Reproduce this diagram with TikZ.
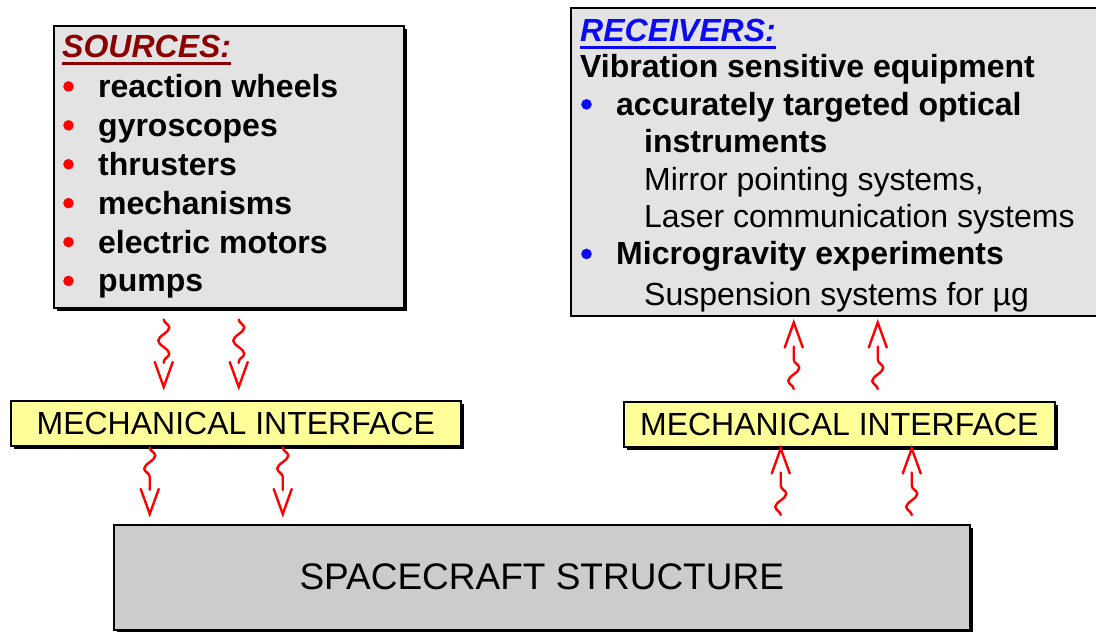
\documentclass[tikz,border=0pt]{standalone}
\usepackage{fontspec}
\setmainfont{Liberation Sans}
\usetikzlibrary{positioning,decorations.pathmorphing,decorations.markings,shadows}

\definecolor{boxgrey}{HTML}{E3E3E3}
\definecolor{basegrey}{HTML}{CCCCCC}
\definecolor{ifyellow}{HTML}{FFFF99}
\definecolor{srcred}{HTML}{8B0000}
\definecolor{rcvblue}{HTML}{0A0AF5}

\newcommand\hdrline[1]{\setbox0=\hbox{#1}\rlap{\rule[-7.5pt]{\wd0}{2.8pt}}\box0}
\newcommand\bul[1]{\makebox[36pt][l]{\hspace{1pt}\tikz[baseline=-11pt]\fill[#1](0pt,0pt)circle(5.3pt);}}

\begin{document}
\begin{tikzpicture}
[x=1pt,y=-1pt,
 shadowed/.style={drop shadow={shadow xshift=3.5pt,shadow yshift=-3.5pt,fill=black,opacity=1}},
 greybox/.style={draw,line width=1.5pt,fill=boxgrey,inner sep=0pt},
 ifbox/.style={draw,line width=1.5pt,fill=ifyellow,shadowed,inner sep=0pt,
   font=\fontsize{32}{38}\selectfont},
 basebox/.style={draw,line width=1.5pt,fill=basegrey,shadowed,inner sep=0pt,
   font=\fontsize{37}{42}\selectfont},
 wave/.style={red,line width=2.4pt,
   postaction={draw,line cap=round,decorate,shorten >=24pt,
     decoration={snake,amplitude=5.5pt,segment length=26pt,post length=25pt}},
   postaction={decorate,decoration={markings,mark=at position 1 with
     {\draw[line cap=round,line join=miter] (-25pt,9pt) -- (0pt,0pt) -- (-25pt,-9pt);}}}}]
\useasboundingbox (0,0) rectangle (1096,632);
\clip (0,0) rectangle (1096,632);
% sources
\node[greybox,shadowed,anchor=north west,minimum width=350pt,minimum height=282pt](src) at (53,25){};
\node[anchor=north west,align=left,inner sep=0pt,font=\fontsize{32}{38.9}\selectfont\bfseries]
 (srclist) at ([xshift=9pt,yshift=-10pt]src.north west)
 {{\color{srcred}\itshape\hdrline{SOURCES:}}\\[1pt]
  \bul{red}reaction wheels\\
  \bul{red}gyroscopes\\
  \bul{red}thrusters\\
  \bul{red}mechanisms\\
  \bul{red}electric motors\\
  \bul{red}pumps};
% receivers
\node[greybox,anchor=north west,minimum width=540pt,minimum height=308pt](rcv) at (570,7){};
\node[anchor=north west,align=left,inner sep=0pt,font=\fontsize{32}{37.4}\selectfont]
 (rcvlist) at ([xshift=10pt,yshift=-12pt]rcv.north west)
 {{\color{rcvblue}\bfseries\itshape\hdrline{RECEIVERS:}}\\[-1pt]
  \textbf{Vibration sensitive equipment}\\
  \bul{rcvblue}\textbf{accurately targeted optical}\\
  \hspace*{64pt}\textbf{instruments}\\
  \hspace*{64pt}Mirror pointing systems,\\
  \hspace*{64pt}Laser communication systems\\
  \bul{rcvblue}\textbf{Microgravity experiments}\\[3pt]
  \hspace*{64pt}Suspension systems for µg};
% interfaces and structure
\node[ifbox,anchor=north west,minimum width=450pt,minimum height=45pt](mifl) at (10,400){MECHANICAL INTERFACE};
\node[ifbox,anchor=north west,minimum width=431pt,minimum height=45pt](mifr) at (623,401){MECHANICAL INTERFACE};
\node[basebox,anchor=north west,minimum width=856pt,minimum height=105pt](sc) at (113,524){SPACECRAFT STRUCTURE};
% vibration paths
\path[wave] ([xshift=-65pt,yshift=-11pt]src.south) coordinate (a1) -- ([yshift=13pt]a1 |- mifl.north);
\path[wave] ([xshift=10pt,yshift=-11pt]src.south) coordinate (a2) -- ([yshift=13pt]a2 |- mifl.north);
\path[wave] ([xshift=-86pt,yshift=-1pt]mifl.south) coordinate (b1) -- ([yshift=10pt]b1 |- sc.north);
\path[wave] ([xshift=47pt,yshift=-1pt]mifl.south) coordinate (b2) -- ([yshift=10pt]b2 |- sc.north);
\path[wave] ([xshift=239pt,yshift=9pt]sc.north) coordinate (c1) -- ([yshift=-1pt]c1 |- mifr.south);
\path[wave] ([xshift=370pt,yshift=9pt]sc.north) coordinate (c2) -- ([yshift=-1pt]c2 |- mifr.south);
\path[wave] ([xshift=-45.5pt,yshift=12pt]mifr.north) coordinate (d1) -- ([yshift=-6pt]d1 |- rcv.south);
\path[wave] ([xshift=38.5pt,yshift=12pt]mifr.north) coordinate (d2) -- ([yshift=-6pt]d2 |- rcv.south);
\end{tikzpicture}
\end{document}
